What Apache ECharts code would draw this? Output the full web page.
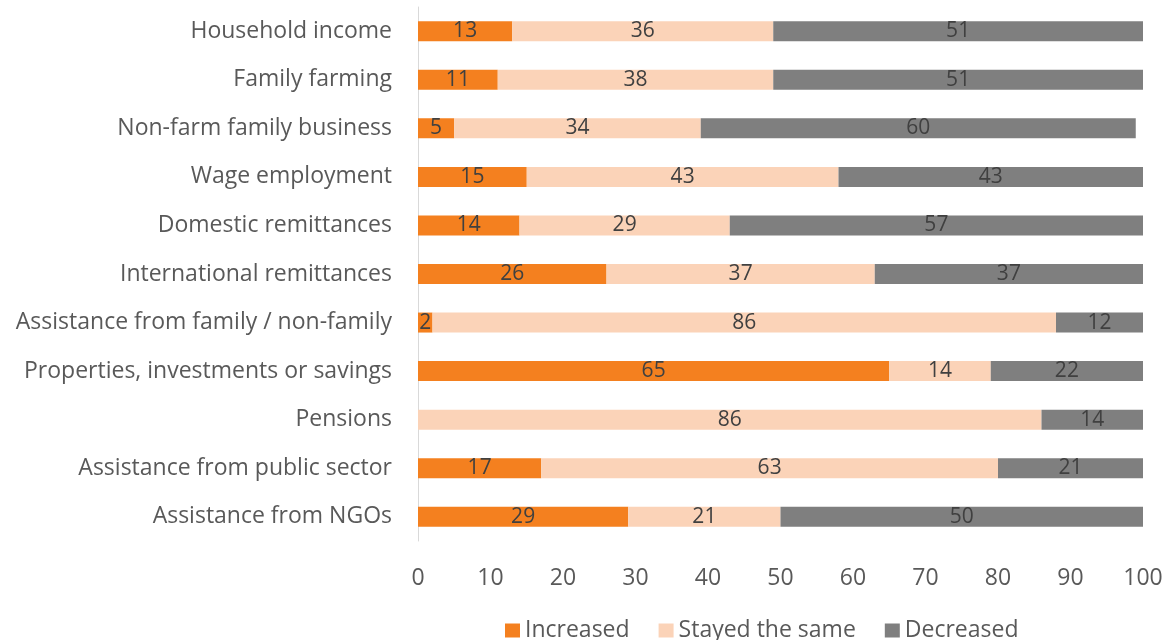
<!DOCTYPE html>
<html>
<head>
<meta charset="utf-8">
<script src="https://cdn.jsdelivr.net/npm/echarts@6/dist/echarts.min.js"></script>
<style>
  html, body { margin: 0; padding: 0; background: #fff; }
  #chart { width: 1168px; height: 640px; }
</style>
</head>
<body>
<div id="chart"></div>
<script>
// Income source categories, listed top to bottom
const categories = [
  'Household income',
  'Family farming',
  'Non-farm family business',
  'Wage employment',
  'Domestic remittances',
  'International remittances',
  'Assistance from family / non-family',
  'Properties, investments or savings',
  'Pensions',
  'Assistance from public sector',
  'Assistance from NGOs'
];

// Share of respondents (%) per category
const increased    = [13, 11, 5, 15, 14, 26, 2, 65, 0, 17, 29];
const stayedSame   = [36, 38, 34, 43, 29, 37, 86, 14, 86, 63, 21];
const decreased    = [51, 51, 60, 43, 57, 37, 12, 22, 14, 21, 50];

const xTicks = [0, 10, 20, 30, 40, 50, 60, 70, 80, 90, 100];

const FONT = '"Open Sans", sans-serif';

// Category axis runs bottom-up, so reverse to keep the first item on top
const cats = categories.slice().reverse();
const rev = a => a.slice().reverse();

function barSeries(name, data, color) {
  return {
    name: name,
    type: 'bar',
    stack: 'total',
    barWidth: 20,
    data: rev(data),
    itemStyle: { color: color },
    label: {
      show: true,
      position: 'inside',
      color: '#404040',
      fontFamily: FONT,
      fontSize: 21,
      formatter: p => (p.value ? String(p.value) : '')
    },
    emphasis: { disabled: true }
  };
}

const chart = echarts.init(document.getElementById('chart'), null, { renderer: 'canvas' });
chart.setOption({
  animation: false,
  textStyle: { fontFamily: FONT },
  grid: { left: 418, right: 25, top: 7, bottom: 99, containLabel: false },
  legend: {
    top: 614,
    left: 500,
    itemWidth: 15,
    itemHeight: 14,
    itemGap: 29,
    icon: 'rect',
    textStyle: { color: '#595959', fontSize: 23, fontFamily: FONT },
    data: ['Increased', 'Stayed the same', 'Decreased']
  },
  xAxis: {
    type: 'value',
    min: xTicks[0],
    max: xTicks[xTicks.length - 1],
    interval: 10,
    axisLine: { show: false },
    axisTick: { show: false },
    splitLine: { show: false },
    axisLabel: { color: '#595959', fontSize: 23, fontFamily: FONT, margin: 26 }
  },
  yAxis: {
    type: 'category',
    data: cats,
    axisLine: { show: true, lineStyle: { color: '#D9D9D9', width: 1 } },
    axisTick: { show: false },
    axisLabel: { color: '#595959', fontSize: 23, fontFamily: FONT, margin: 26 }
  },
  series: [
    barSeries('Increased', increased, '#F4801F'),
    barSeries('Stayed the same', stayedSame, '#FBD3B8'),
    barSeries('Decreased', decreased, '#7F7F7F')
  ]
});
</script>
</body>
</html>
